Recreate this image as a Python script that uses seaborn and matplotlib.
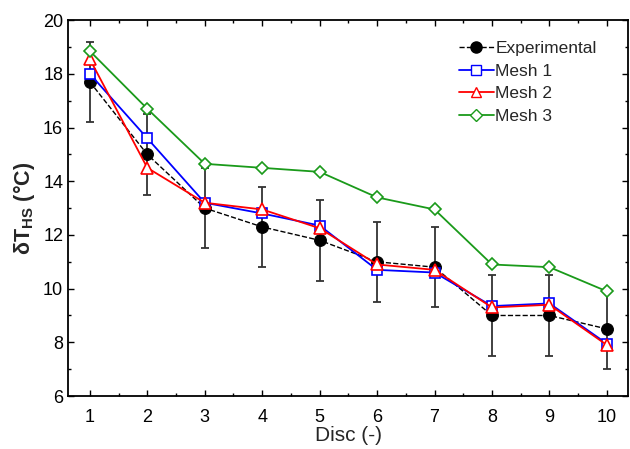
import numpy as np
import pandas as pd
import matplotlib
matplotlib.use("Agg")
import matplotlib.pyplot as plt
import seaborn as sns
from matplotlib.ticker import MultipleLocator
from matplotlib.lines import Line2D

# data
disc = [1, 2, 3, 4, 5, 6, 7, 8, 9, 10]
experimental = [17.7, 15.0, 13.0, 12.3, 11.8, 11.0, 10.8, 9.0, 9.0, 8.5]
exp_error = [1.5, 1.5, 1.5, 1.5, 1.5, 1.5, 1.5, 1.5, 1.5, 1.5]
mesh1 = [18.0, 15.6, 13.2, 12.8, 12.35, 10.7, 10.6, 9.35, 9.45, 7.95]
mesh2 = [18.55, 14.5, 13.2, 12.95, 12.25, 10.9, 10.7, 9.3, 9.4, 7.9]
mesh3 = [18.85, 16.7, 14.65, 14.5, 14.35, 13.4, 12.95, 10.9, 10.8, 9.9]

sns.set_theme(style="ticks")
plt.rcParams['font.family'] = ['Liberation Sans', 'DejaVu Sans']
plt.rcParams['mathtext.fontset'] = 'custom'
plt.rcParams['mathtext.rm'] = 'Liberation Sans'
plt.rcParams['mathtext.bf'] = 'Liberation Sans:bold'

df = pd.DataFrame({
    'Disc': disc * 3,
    'dT': mesh1 + mesh2 + mesh3,
    'Series': ['Mesh 1'] * 10 + ['Mesh 2'] * 10 + ['Mesh 3'] * 10,
})

fig = plt.figure(figsize=(6.3, 4.49), dpi=100)
ax = fig.add_axes([0.108, 0.118, 0.889, 0.837])

# experimental with error bars
ax.errorbar(disc, experimental, yerr=exp_error, fmt='none', ecolor='#333333',
            elinewidth=1.3, capsize=3, capthick=1.3, zorder=2)
sns.lineplot(x=disc, y=experimental, ax=ax, color='black', linestyle='--',
             linewidth=1.0, marker='o', markersize=8.5, markeredgecolor='black',
             markerfacecolor='black', zorder=3)

styles = {
    'Mesh 1': dict(color='#0000ff', marker='s', ms=7.5),
    'Mesh 2': dict(color='#ff0000', marker='^', ms=8.5),
    'Mesh 3': dict(color='#1a9a1a', marker='D', ms=6.5),
}
for name, st in styles.items():
    sub = df[df['Series'] == name]
    sns.lineplot(data=sub, x='Disc', y='dT', ax=ax, color=st['color'],
                 linewidth=1.3, marker=st['marker'], markersize=st['ms'],
                 markerfacecolor='white', markeredgecolor=st['color'],
                 markeredgewidth=1.2, zorder=4)

ax.set_xlim(0.62, 10.37)
ax.set_ylim(6, 20)
ax.xaxis.set_major_locator(MultipleLocator(1))
ax.xaxis.set_minor_locator(MultipleLocator(0.5))
ax.yaxis.set_major_locator(MultipleLocator(2))
ax.yaxis.set_minor_locator(MultipleLocator(1))
ax.tick_params(which='both', direction='in', top=True, right=True,
               labelsize=13, width=1.0, colors='black')
ax.tick_params(which='major', length=4)
ax.tick_params(which='minor', length=2.5)
ax.tick_params(axis='x', which='major', pad=9)
for s in ax.spines.values():
    s.set_linewidth(1.3)
    s.set_color('black')

ax.set_xlabel('Disc (-)', fontsize=15, labelpad=0)
ax.set_ylabel(r'δT$_{\mathbf{HS}}$ (°C)', fontsize=15.5, fontweight='bold', labelpad=4)

handles = [
    Line2D([], [], color='black', linestyle='--', linewidth=1.0, marker='o',
           markersize=8, markerfacecolor='black'),
    Line2D([], [], color='#0000ff', linewidth=1.3, marker='s', markersize=7,
           markerfacecolor='white'),
    Line2D([], [], color='#ff0000', linewidth=1.3, marker='^', markersize=7,
           markerfacecolor='white'),
    Line2D([], [], color='#1a9a1a', linewidth=1.3, marker='D', markersize=6,
           markerfacecolor='white'),
]
ax.legend(handles, ['Experimental', 'Mesh 1', 'Mesh 2', 'Mesh 3'],
          loc='upper right', frameon=False, fontsize=12.5, handlelength=2.0,
          handletextpad=0.1, labelspacing=0.42, borderaxespad=0.6,
          bbox_to_anchor=(0.975, 0.99))

fig.savefig('out.png', dpi=100)
